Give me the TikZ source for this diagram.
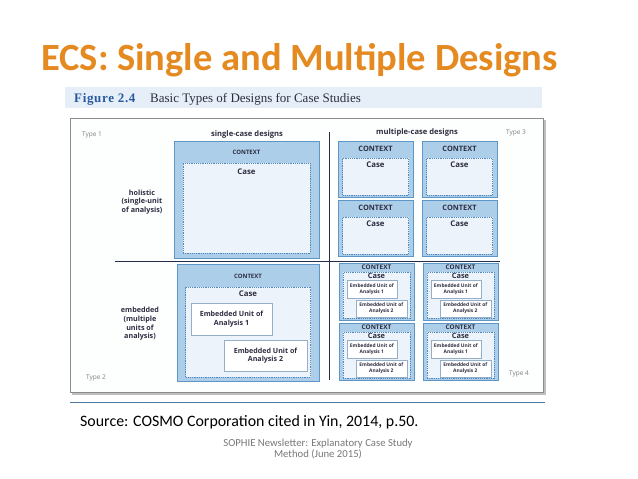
\documentclass[tikz,border=0pt]{standalone}
\usepackage{fontspec}
\setmainfont{Carlito}
\newfontfamily\figserif{Liberation Serif}
\newfontfamily\figsans{Open Sans}
\usetikzlibrary{positioning}
\usepackage{xcolor}

\definecolor{titleorange}{RGB}{228,138,32}
\definecolor{bandblue}{RGB}{230,239,248}
\definecolor{figblue}{RGB}{40,90,160}
\definecolor{ctxfill}{RGB}{172,206,232}
\definecolor{ctxline}{RGB}{95,150,200}
\definecolor{casefill}{RGB}{236,243,250}
\definecolor{caseline}{RGB}{80,135,190}
\definecolor{unitline}{RGB}{150,175,200}
\definecolor{navyline}{RGB}{35,45,75}
\definecolor{lbltext}{RGB}{45,45,65}
\definecolor{footgray}{RGB}{120,120,120}

\begin{document}
\begin{tikzpicture}[x=1pt, y=-1pt, every node/.style={inner sep=0pt}]
    \tikzstyle{ctx} = [rectangle, draw=ctxline, fill=ctxfill, line width=0.8pt]
    \tikzstyle{ctxsm} = [ctx, minimum width=75pt, minimum height=56pt]
    \tikzstyle{casebox} = [rectangle, draw=caseline, dashed, dash pattern=on 1.2pt off 1pt, fill=casefill, line width=0.5pt]
    \tikzstyle{unitbox} = [rectangle, draw=unitline, fill=white, line width=0.5pt, align=center, text=lbltext, font=\figsans\bfseries\fontsize{7.1}{8.5}\selectfont]
    \tikzstyle{unitsm} = [unitbox, font=\figsans\bfseries\fontsize{4.9}{5.6}\selectfont]
    \tikzstyle{ctxtxt} = [text=lbltext, font=\figsans\bfseries\fontsize{7.4}{8}\selectfont]
    \tikzstyle{casetxt} = [text=lbltext, font=\figsans\bfseries\fontsize{7.8}{8}\selectfont]
    \tikzstyle{embtxt} = [text=lbltext, font=\figsans\bfseries\fontsize{6.4}{7}\selectfont]
    \tikzstyle{rowlbl} = [text=lbltext, align=center, font=\figsans\bfseries\fontsize{7.2}{8.6}\selectfont]
    \tikzstyle{typelbl} = [text=gray, font=\figsans\fontsize{6.5}{7}\selectfont]

    \useasboundingbox[fill=white] (0,0) rectangle (638,479);

    % Title
    \node[anchor=base west, text=titleorange, font=\bfseries\fontsize{38.5}{44}\selectfont] (title) at (41,70) {ECS: Single and Multiple Designs};

    % Figure header
    \fill[bandblue] (65,87) rectangle (542,108);
    \node[anchor=base west, text=figblue, font=\figserif\bfseries\fontsize{13}{14}\selectfont\addfontfeatures{LetterSpace=5}] (figno) at (74,102) {Figure 2.4};
    \node[anchor=base west, text=lbltext, font=\figserif\fontsize{13}{14}\selectfont] (figtitle) at (150,102) {Basic Types of Designs for Case Studies};

    % Frame
    \fill[black!25] (72,120) rectangle (546,395);
    \draw[fill=white!97!ctxfill, draw=black!45, line width=0.6pt] (70,118) rectangle (543,392);
    \draw[draw=ctxline!80!black, line width=0.8pt] (70,402) -- (545,402);

    % Dividers
    \coordinate (vtop) at (329,132);
    \coordinate (vbot) at (329,380);
    \coordinate (hleft) at (115,261);
    \coordinate (hright) at (500,261);
    \draw[navyline, line width=0.9pt] (vtop) -- (vbot);
    \draw[navyline, line width=0.9pt] (hleft) -- (hright);

    % Headings
    \node[typelbl] (type1) at (92,135) {Type 1};
    \node[typelbl] (type2) at (96,378) {Type 2};
    \node[typelbl] (type3) at (516,133) {Type 3};
    \node[typelbl] (type4) at (519,374) {Type 4};
    \node[rowlbl, font=\figsans\bfseries\fontsize{7.6}{9}\selectfont] (single) at (247,135) {single-case designs};
    \node[rowlbl, font=\figsans\bfseries\fontsize{7.6}{9}\selectfont] (multiple) at (417,133) {multiple-case designs};
    \node[rowlbl] (holistic) at (142,202) {holistic\\(single-unit\\of analysis)};
    \node[rowlbl] (embedded) at (140,324) {embedded\\(multiple\\units of\\analysis)};

    % Type 1
    \node[ctx, minimum width=145pt, minimum height=117pt] (ctxA) at (246.5,199.5) {};
    \node[casebox, minimum width=127pt, minimum height=90pt, below=22pt of ctxA.north] (caseA) {};
    \node[ctxtxt, font=\figsans\bfseries\fontsize{6}{7}\selectfont, below=9pt of ctxA.north] (ctxAlbl) {CONTEXT};
    \node[casetxt, below=6pt of caseA.north] (caseAlbl) {Case};

    % Type 2
    \node[ctx, minimum width=142pt, minimum height=117pt] (ctxB) at (248,322.5) {};
    \node[casebox, minimum width=125pt, minimum height=90pt, below=23pt of ctxB.north] (caseB) {};
    \node[ctxtxt, font=\figsans\bfseries\fontsize{6}{7}\selectfont, below=10pt of ctxB.north] (ctxBlbl) {CONTEXT};
    \node[casetxt, below=4pt of caseB.north] (caseBlbl) {Case};
    \node[unitbox, minimum width=81pt, minimum height=32pt] (unitB1) at (231.5,319) {Embedded Unit of\\Analysis 1};
    \node[unitbox, minimum width=83pt, minimum height=31pt] (unitB2) at (265.5,355.5) {Embedded Unit of\\Analysis 2};

    % Type 3
    \node[ctxsm] (h1) at (375.5,169.5) {};
    \node[ctxsm] (h2) at (459.5,169.5) {};
    \node[ctxsm] (h3) at (375.5,228.5) {};
    \node[ctxsm] (h4) at (459.5,228.5) {};
    \node[casebox, minimum width=66pt, minimum height=37pt, below=17pt of h1.north] (h1case) {};
    \node[casebox, minimum width=66pt, minimum height=37pt, below=17pt of h2.north] (h2case) {};
    \node[casebox, minimum width=66pt, minimum height=37pt, below=17pt of h3.north] (h3case) {};
    \node[casebox, minimum width=66pt, minimum height=37pt, below=17pt of h4.north] (h4case) {};
    \node[ctxtxt, below=5pt of h1.north] (h1lbl) {CONTEXT};
    \node[ctxtxt, below=5pt of h2.north] (h2lbl) {CONTEXT};
    \node[ctxtxt, below=5pt of h3.north] (h3lbl) {CONTEXT};
    \node[ctxtxt, below=5pt of h4.north] (h4lbl) {CONTEXT};
    \node[casetxt, below=3.5pt of h1case.north] (h1caselbl) {Case};
    \node[casetxt, below=3.5pt of h2case.north] (h2caselbl) {Case};
    \node[casetxt, below=3.5pt of h3case.north] (h3caselbl) {Case};
    \node[casetxt, below=3.5pt of h4case.north] (h4caselbl) {Case};

    % Type 4
    \node[ctxsm, minimum height=57pt] (e1) at (376.5,291.5) {};
    \node[ctxsm, minimum height=57pt] (e2) at (460.5,291.5) {};
    \node[ctxsm, minimum height=57pt] (e3) at (376.5,351.5) {};
    \node[ctxsm, minimum height=57pt] (e4) at (460.5,351.5) {};
    \node[casebox, minimum width=67pt, minimum height=46pt, below=9.5pt of e1.north] (e1case) {};
    \node[casebox, minimum width=67pt, minimum height=46pt, below=9.5pt of e2.north] (e2case) {};
    \node[casebox, minimum width=67pt, minimum height=46pt, below=9.5pt of e3.north] (e3case) {};
    \node[casebox, minimum width=67pt, minimum height=46pt, below=9.5pt of e4.north] (e4case) {};
    \node[embtxt, below=1.8pt of e1.north] (e1lbl) {CONTEXT};
    \node[embtxt, below=1.8pt of e2.north] (e2lbl) {CONTEXT};
    \node[embtxt, below=1.8pt of e3.north] (e3lbl) {CONTEXT};
    \node[embtxt, below=1.8pt of e4.north] (e4lbl) {CONTEXT};
    \node[casetxt, font=\figsans\bfseries\fontsize{7.4}{8}\selectfont, below=1pt of e1case.north] (e1caselbl) {Case};
    \node[casetxt, font=\figsans\bfseries\fontsize{7.4}{8}\selectfont, below=1pt of e2case.north] (e2caselbl) {Case};
    \node[casetxt, font=\figsans\bfseries\fontsize{7.4}{8}\selectfont, below=1pt of e3case.north] (e3caselbl) {Case};
    \node[casetxt, font=\figsans\bfseries\fontsize{7.4}{8}\selectfont, below=1pt of e4case.north] (e4caselbl) {Case};
    \node[unitsm, minimum width=50pt, minimum height=18pt, anchor=north west] (e1u1) at ([shift={(8,17.5)}]e1.north west) {Embedded Unit of\\Analysis 1};
    \node[unitsm, minimum width=51pt, minimum height=17pt, anchor=north west] (e1u2) at ([shift={(17,37)}]e1.north west) {Embedded Unit of\\Analysis 2};
    \node[unitsm, minimum width=50pt, minimum height=18pt, anchor=north west] (e2u1) at ([shift={(8,17.5)}]e2.north west) {Embedded Unit of\\Analysis 1};
    \node[unitsm, minimum width=51pt, minimum height=17pt, anchor=north west] (e2u2) at ([shift={(17,37)}]e2.north west) {Embedded Unit of\\Analysis 2};
    \node[unitsm, minimum width=50pt, minimum height=18pt, anchor=north west] (e3u1) at ([shift={(8,17.5)}]e3.north west) {Embedded Unit of\\Analysis 1};
    \node[unitsm, minimum width=51pt, minimum height=17pt, anchor=north west] (e3u2) at ([shift={(17,37)}]e3.north west) {Embedded Unit of\\Analysis 2};
    \node[unitsm, minimum width=50pt, minimum height=18pt, anchor=north west] (e4u1) at ([shift={(8,17.5)}]e4.north west) {Embedded Unit of\\Analysis 1};
    \node[unitsm, minimum width=51pt, minimum height=17pt, anchor=north west] (e4u2) at ([shift={(17,37)}]e4.north west) {Embedded Unit of\\Analysis 2};

    % Source and footer
    \node[anchor=base west, font=\fontsize{15.9}{18}\selectfont] (source) at (80,426) {Source: COSMO Corporation cited in Yin, 2014, p.50.};
    \node[align=center, text=footgray, font=\fontsize{10.7}{11.5}\selectfont] (footer) at (318,449) {SOPHIE Newsletter: Explanatory Case Study\\Method (June 2015)};
\end{tikzpicture}
\end{document}
